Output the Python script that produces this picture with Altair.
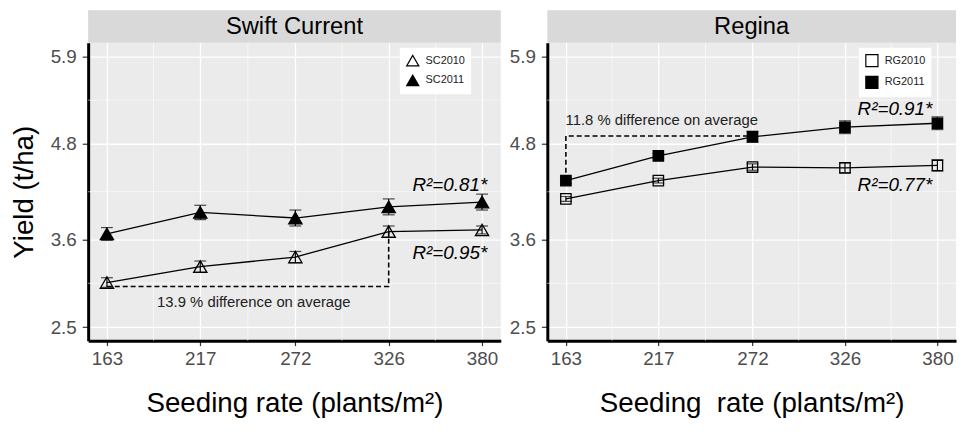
import altair as alt
import pandas as pd

FONT = "Liberation Sans"

# ---------------- data ----------------
rates = [163, 217, 272, 326, 380]
panels = ["Swift Current", "Regina"]
sc_series = ["SC2010", "SC2011"]
rg_series = ["RG2010", "RG2011"]

sc2010 = [3.06, 3.26, 3.38, 3.70, 3.72]
sc2010_se = [0.06, 0.07, 0.07, 0.07, 0.05]
sc2011 = [3.67, 3.94, 3.87, 4.01, 4.07]
sc2011_se = [0.08, 0.09, 0.10, 0.10, 0.10]
rg2010 = [4.11, 4.34, 4.51, 4.50, 4.53]
rg2010_se = [0.03, 0.03, 0.04, 0.06, 0.07]
rg2011 = [4.34, 4.65, 4.89, 5.01, 5.06]
rg2011_se = [0.04, 0.03, 0.07, 0.08, 0.08]

y_ticks = [2.5, 3.6, 4.8, 5.9]
y_minor = [3.05, 4.2, 5.35]
x_minor = [190, 244.5, 299, 353]

sc_dash_x = [163, 326, 326]
sc_dash_y = [3.01, 3.01, 3.70]
sc_diff = "13.9 % difference on average"
sc_diff_pos = (248, 2.81)
sc_r2 = ["R²=0.81*", "R²=0.95*"]
sc_r2_x = 383
sc_r2_y = [4.29, 3.43]

rg_dash_x = [163, 163, 272]
rg_dash_y = [4.34, 4.90, 4.90]
rg_diff = "11.8 % difference on average"
rg_diff_pos = (219, 5.10)
rg_r2 = ["R²=0.91*", "R²=0.77*"]
rg_r2_x = 377
rg_r2_y = [5.24, 4.28]

x_title_left = "Seeding rate (plants/m²)"
x_title_right = "Seeding\u00a0 rate (plants/m²)"
y_title = "Yield (t/ha)"

X_DOMAIN = [152.15, 390.85]
Y_DOMAIN = [2.33, 6.07]
H = 301
STRIP = 33


def series_df(names, v1, e1, v2, e2):
    rows = []
    for name, vals, ses in ((names[0], v1, e1), (names[1], v2, e2)):
        for r, v, s in zip(rates, vals, ses):
            rows.append({"rate": r, "yield": v, "lo": v - s, "hi": v + s, "series": name})
    return pd.DataFrame(rows)


def make_panel(title, names, df, shape, dash_x, dash_y, diff, diff_pos, diff_align,
               r2, r2_x, r2_y, width, xtitle, show_ytitle):
    xa = alt.Axis(values=rates, title=xtitle, grid=True, gridColor="white", gridWidth=1.3,
                  domainColor="black", domainWidth=3, tickColor="#333333", tickSize=5,
                  tickWidth=1.2, labelFontSize=19, labelColor="#4d4d4d", labelPadding=4,
                  titleFontSize=28, titleFontWeight="normal", titleColor="black",
                  titlePadding=22, labelFont=FONT, titleFont=FONT)
    ya = alt.Axis(values=y_ticks, format=".1f", title=y_title if show_ytitle else None,
                  grid=True, gridColor="white", gridWidth=1.3, domainColor="black",
                  domainWidth=3, tickColor="#333333", tickSize=6, tickWidth=1.2,
                  labelFontSize=19, labelColor="#4d4d4d", labelPadding=6,
                  titleFontSize=28, titleFontWeight="normal", titleColor="black",
                  titlePadding=12, labelFont=FONT, titleFont=FONT)
    xs = alt.Scale(domain=X_DOMAIN, nice=False, zero=False)
    ys = alt.Scale(domain=Y_DOMAIN, nice=False, zero=False)

    def X(f="rate"):
        return alt.X(f"{f}:Q", scale=xs, axis=xa)

    def Y(f="yield"):
        return alt.Y(f"{f}:Q", scale=ys, axis=ya)

    strip_df = pd.DataFrame({"panel": [title]})
    strip = alt.Chart(strip_df).mark_rect(color="#D9D9D9").encode(
        x=alt.value(0), x2=alt.value(width), y=alt.value(-STRIP), y2=alt.value(0))
    strip_txt = alt.Chart(strip_df).mark_text(font=FONT, fontSize=24, color="black",
                                              baseline="middle").encode(
        x=alt.value(width / 2), y=alt.value(-STRIP / 2 + 1), text="panel:N")

    ymin = alt.Chart(pd.DataFrame({"yield": y_minor})).mark_rule(
        color="white", strokeWidth=0.6).encode(y=Y())
    xmin = alt.Chart(pd.DataFrame({"rate": x_minor})).mark_rule(
        color="white", strokeWidth=0.6).encode(x=X())

    base = alt.Chart(df)
    lines = base.mark_line(color="black", strokeWidth=1.3).encode(
        x=X(), y=Y(), detail="series:N")
    bars = base.mark_rule(color="black", strokeWidth=1.2).encode(
        x=X(), y=Y("lo"), y2="hi:Q")
    cap_lo = base.mark_tick(orient="horizontal", color="black", size=12, thickness=1.2).encode(
        x=X(), y=Y("lo"))
    cap_hi = base.mark_tick(orient="horizontal", color="black", size=12, thickness=1.2).encode(
        x=X(), y=Y("hi"))
    size = 180 if shape == "triangle-up" else 110
    pts = base.mark_point(strokeWidth=1.3, opacity=1, size=size).encode(
        x=X(), y=Y(),
        shape=alt.Shape("series:N", scale=alt.Scale(domain=names, range=[shape, shape]),
                        legend=alt.Legend(title=None)),
        fill=alt.Fill("series:N", scale=alt.Scale(domain=names, range=["transparent", "black"]),
                      legend=alt.Legend(title=None)),
        stroke=alt.Stroke("series:N", scale=alt.Scale(domain=names, range=["black", "black"]),
                          legend=alt.Legend(title=None)),
    )

    dash_df = pd.DataFrame({"rate": dash_x, "yield": dash_y, "i": list(range(len(dash_x)))})
    dash = alt.Chart(dash_df).mark_line(color="black", strokeWidth=1.6,
                                        strokeDash=[5, 3]).encode(
        x=X(), y=Y(), order="i:Q")

    diff_df = pd.DataFrame({"rate": [diff_pos[0]], "yield": [diff_pos[1]], "t": [diff]})
    diff_txt = alt.Chart(diff_df).mark_text(font=FONT, fontSize=15, color="#222222",
                                            align=diff_align, baseline="middle").encode(
        x=X(), y=Y(), text="t:N")

    r2_df = pd.DataFrame({"rate": [r2_x, r2_x], "yield": r2_y, "t": r2})
    r2_txt = alt.Chart(r2_df).mark_text(font=FONT, fontSize=19, fontStyle="italic",
                                        color="black", align="right",
                                        baseline="middle").encode(
        x=X(), y=Y(), text="t:N")

    return alt.layer(strip, strip_txt, ymin, xmin, lines, bars, cap_lo, cap_hi, pts,
                     dash, diff_txt, r2_txt).properties(width=width, height=H)


sc_df = series_df(sc_series, sc2010, sc2010_se, sc2011, sc2011_se)
rg_df = series_df(rg_series, rg2010, rg2010_se, rg2011, rg2011_se)

left = make_panel(panels[0], sc_series, sc_df, "triangle-up", sc_dash_x, sc_dash_y,
                  sc_diff, sc_diff_pos, "center", sc_r2, sc_r2_x, sc_r2_y, 417,
                  x_title_left, True)
right = make_panel(panels[1], rg_series, rg_df, "square", rg_dash_x, rg_dash_y,
                   rg_diff, rg_diff_pos, "center", rg_r2, rg_r2_x, rg_r2_y, 413,
                   x_title_right, False)

chart = alt.hconcat(left, right, spacing=7).resolve_scale(
    shape="independent", fill="independent", stroke="independent",
    x="independent", y="independent"
).resolve_legend(shape="independent", fill="independent", stroke="independent").properties(
    padding={"left": 2, "top": 0, "right": 0, "bottom": 0}
).configure_view(fill="#EBEBEB", stroke=None).configure_legend(
    orient="none", legendX=315, legendY=5, fillColor="white", padding=6,
    labelFontSize=11, labelFont=FONT, labelColor="#222222", symbolSize=150,
    symbolStrokeWidth=1.2, rowPadding=4, labelOffset=6
)

chart.save("out.html", embed_options={"renderer": "svg", "actions": False})
